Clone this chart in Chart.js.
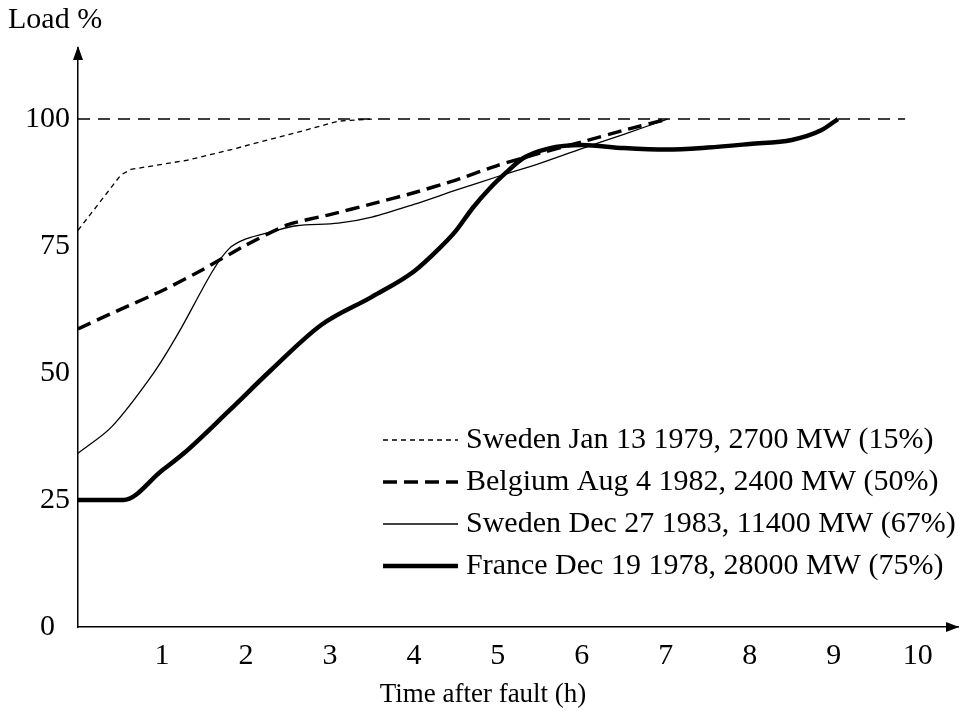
<!DOCTYPE html>
<html>
<head>
<meta charset="utf-8">
<script src="https://cdn.jsdelivr.net/npm/chart.js@4.4.1/dist/chart.umd.min.js"></script>
<style>
html,body{margin:0;padding:0;background:#fff;}
canvas{display:block;}
</style>
</head>
<body>
<canvas id="c" width="959" height="711"></canvas>
<script>
// ---- data ----
const xTickValues = [1, 2, 3, 4, 5, 6, 7, 8, 9, 10];
const yTickValues = [0, 25, 50, 75, 100];

const refLineX = [0, 9.85];
const refLineY = [100, 100];

const swedenJanLabel = 'Sweden Jan 13 1979, 2700 MW (15%)';
const swedenJanX = [0, 0.51, 0.63, 1.3, 1.8, 2.57, 3.1, 3.5];
const swedenJanY = [78.1, 89, 90.1, 91.9, 93.9, 97.2, 99.6, 100];

const belgiumLabel = 'Belgium Aug 4 1982, 2400 MW (50%)';
const belgiumX = [0, 0.5, 1, 1.5, 2, 2.5, 3, 3.5, 4, 4.5, 5, 5.5, 6, 6.5, 7.02];
const belgiumY = [58.7, 62.5, 66.2, 70.5, 75.2, 79.2, 81.2, 83.3, 85.5, 88, 90.9, 93.3, 95.5, 97.8, 100];

const swedenDecLabel = 'Sweden Dec 27 1983, 11400 MW (67%)';
const swedenDecX = [0, 0.4, 0.9, 1.2, 1.6, 1.8, 2, 2.3, 2.6, 3.1, 3.5, 4, 4.5, 5, 5.5, 6, 6.5, 7.02];
const swedenDecY = [34.2, 39.4, 50, 58, 70, 74.5, 76.4, 77.8, 79, 79.5, 80.7, 83.2, 86, 88.7, 91.3, 94.2, 97, 100];

const franceLabel = 'France Dec 19 1978, 28000 MW (75%)';
const franceX = [0, 0.54, 1, 1.26, 1.8, 2.3, 2.9, 3.5, 4, 4.3, 4.5, 4.7, 4.9, 5.1, 5.3, 5.6, 6, 6.5, 7, 7.5, 8, 8.5, 8.85, 9.05];
const franceY = [25, 25, 30.8, 34.2, 42.6, 50.6, 59.5, 65, 70, 74.5, 78, 82.5, 86.3, 89.5, 92.3, 94.2, 94.9, 94.3, 94, 94.4, 95.1, 95.9, 97.8, 100];

// ---- helpers ----
const pts = (xs, ys) => xs.map((x, i) => ({ x: x, y: ys[i] }));
const FONT = 'Liberation Serif, Times New Roman, serif';

const legendPlugin = {
  id: 'customLegend',
  afterDatasetsDraw(chart, args, opts) {
    const ctx = chart.ctx;
    ctx.save();
    let row = 0;
    chart.data.datasets.forEach((ds) => {
      if (ds.hideInLegend) return;
      const y = opts.top + row * opts.rowGap;
      ctx.beginPath();
      ctx.setLineDash(ds.borderDash || []);
      ctx.lineWidth = ds.borderWidth;
      ctx.strokeStyle = ds.borderColor;
      ctx.moveTo(opts.lineStart, y);
      ctx.lineTo(opts.lineEnd, y);
      ctx.stroke();
      ctx.setLineDash([]);
      ctx.fillStyle = '#000';
      ctx.font = opts.fontSize + 'px ' + FONT;
      ctx.textBaseline = 'middle';
      ctx.textAlign = 'left';
      ctx.fillText(ds.label, opts.textStart, y);
      row++;
    });
    ctx.restore();
  }
};

const arrowPlugin = {
  id: 'axisArrows',
  afterDraw(chart) {
    const ctx = chart.ctx;
    const a = chart.chartArea;
    ctx.save();
    ctx.fillStyle = '#000';
    // y-axis arrow
    ctx.beginPath();
    ctx.moveTo(a.left, a.top - 2);
    ctx.lineTo(a.left - 5, a.top + 12);
    ctx.lineTo(a.left + 5, a.top + 12);
    ctx.closePath();
    ctx.fill();
    // x-axis arrow
    ctx.beginPath();
    ctx.moveTo(a.right + 1, a.bottom);
    ctx.lineTo(a.right - 12, a.bottom - 5);
    ctx.lineTo(a.right - 12, a.bottom + 5);
    ctx.closePath();
    ctx.fill();
    ctx.restore();
  }
};

new Chart(document.getElementById('c'), {
  type: 'line',
  data: {
    datasets: [
      { label: 'ref', hideInLegend: true, data: pts(refLineX, refLineY), borderColor: '#000', borderWidth: 1.5, borderDash: [12, 8], pointRadius: 0, tension: 0 },
      { label: swedenJanLabel, data: pts(swedenJanX, swedenJanY), borderColor: '#000', borderWidth: 1.3, borderDash: [5, 4], pointRadius: 0, tension: 0 },
      { label: belgiumLabel, data: pts(belgiumX, belgiumY), borderColor: '#000', borderWidth: 3.5, borderDash: [14, 7], pointRadius: 0, tension: 0.2 },
      { label: swedenDecLabel, data: pts(swedenDecX, swedenDecY), borderColor: '#000', borderWidth: 1.3, pointRadius: 0, tension: 0.3 },
      { label: franceLabel, data: pts(franceX, franceY), borderColor: '#000', borderWidth: 4.5, pointRadius: 0, cubicInterpolationMode: 'monotone' }
    ]
  },
  options: {
    responsive: false,
    animation: false,
    devicePixelRatio: 1,
    layout: { padding: { left: 8, right: 1, top: 0, bottom: 0 } },
    plugins: {
      legend: { display: false },
      tooltip: { enabled: false },
      title: {
        display: true, text: 'Load %', align: 'start', color: '#000',
        font: { family: FONT, size: 30, weight: 'normal' },
        padding: { top: 2, bottom: 10 }
      },
      subtitle: {
        display: true, position: 'bottom', text: 'Time after fault (h)', color: '#000',
        font: { family: FONT, size: 27, weight: 'normal' },
        padding: { top: 2, bottom: 0 }
      },
      customLegend: { top: 440, rowGap: 42, lineStart: 383, lineEnd: 458, textStart: 466, fontSize: 30 }
    },
    scales: {
      x: {
        type: 'linear', min: 0, max: 10.48,
        grid: { display: false, drawTicks: false },
        border: { display: true, color: '#000', width: 1.5 },
        ticks: { color: '#000', font: { family: FONT, size: 30 }, padding: 11, autoSkip: false, maxRotation: 0 },
        afterBuildTicks: (axis) => { axis.ticks = xTickValues.map(v => ({ value: v })); },
        afterFit: (axis) => { axis.height = 49.6; }
      },
      y: {
        type: 'linear', min: 0, max: 114,
        grid: { display: false, drawTicks: false },
        border: { display: true, color: '#000', width: 1.5 },
        ticks: { color: '#000', font: { family: FONT, size: 30 }, padding: 8, autoSkip: false,
          callback: (v) => (v === 0 ? '0  ' : String(v)) },
        afterBuildTicks: (axis) => { axis.ticks = yTickValues.map(v => ({ value: v })); },
        afterFit: (axis) => { axis.width = 70; }
      }
    }
  },
  plugins: [legendPlugin, arrowPlugin]
});
</script>
</body>
</html>
